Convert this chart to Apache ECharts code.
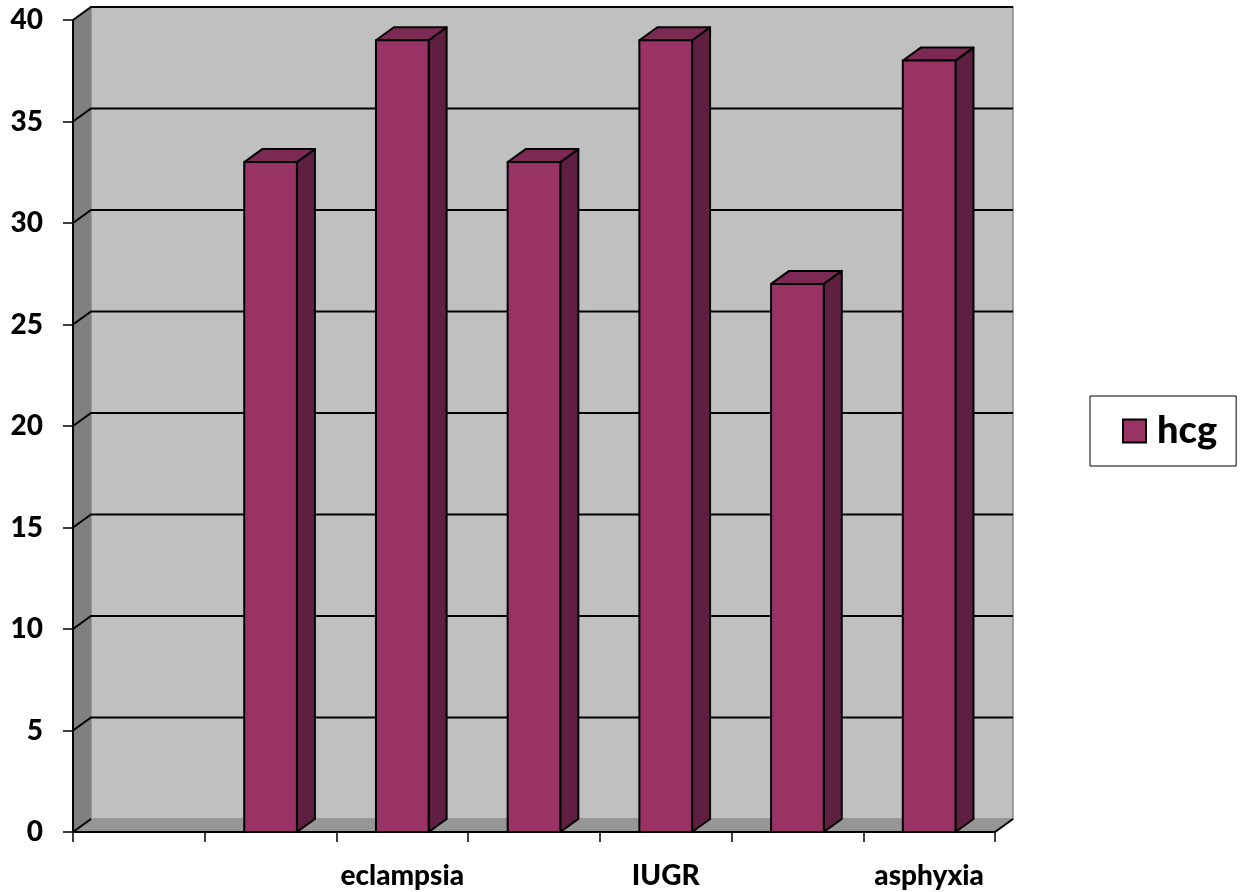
<!DOCTYPE html>
<html>
<head>
<meta charset="utf-8">
<script src="https://cdn.jsdelivr.net/npm/echarts@6/dist/echarts.min.js"></script>
<style>
  html, body { margin: 0; padding: 0; background: #ffffff; }
  #chart { width: 1240px; height: 892px; }
</style>
</head>
<body>
<div id="chart"></div>
<script>
// Category labels (unlabelled slots are left blank)
const categories = ['', '', 'eclampsia', '', 'IUGR', '', 'asphyxia'];
// hcg values per category
const hcgValues = [null, 33, 39, 33, 39, 27, 38];
// Value axis ticks
const yTicks = [0, 5, 10, 15, 20, 25, 30, 35, 40];

// Depth of the pseudo-3D box and bars
const DX = 18, DY = -13;
const FONT = 'Lato, "Open Sans", "DejaVu Sans", sans-serif';

const chart = echarts.init(document.getElementById('chart'), null, { renderer: 'canvas' });

// Walls, floor and gridlines of the 3D plot box
function renderWalls(params, api) {
  const cs = params.coordSys;
  const x0 = cs.x, x1 = cs.x + cs.width;
  const y0 = api.coord([0, 0])[1];
  const yTop = api.coord([0, yTicks[yTicks.length - 1]])[1];
  const children = [];
  // back wall
  children.push({
    type: 'polygon',
    shape: { points: [[x0 + DX, yTop + DY], [x1 + DX, yTop + DY], [x1 + DX, y0 + DY], [x0 + DX, y0 + DY]] },
    style: { fill: '#c0c0c0', stroke: '#8a8a8a', lineWidth: 1.5 }
  });
  // left wall
  children.push({
    type: 'polygon',
    shape: { points: [[x0, yTop], [x0 + DX, yTop + DY], [x0 + DX, y0 + DY], [x0, y0]] },
    style: { fill: '#808080' }
  });
  // floor
  children.push({
    type: 'polygon',
    shape: { points: [[x0, y0], [x0 + DX, y0 + DY], [x1 + DX, y0 + DY], [x1, y0]] },
    style: { fill: '#969696' }
  });
  // floor right edge
  children.push({
    type: 'line',
    shape: { x1: x1, y1: y0, x2: x1 + DX, y2: y0 + DY },
    style: { stroke: '#000', lineWidth: 2 }
  });
  // gridlines: diagonal across the left wall, horizontal across the back wall
  yTicks.forEach(function (v) {
    const yy = api.coord([0, v])[1];
    const pts = v === 0
      ? [[x0, yy], [x0 + DX, yy + DY]]
      : [[x0, yy], [x0 + DX, yy + DY], [x1 + DX, yy + DY]];
    children.push({
      type: 'polyline',
      shape: { points: pts },
      style: { stroke: '#000', lineWidth: 2, fill: null }
    });
  });
  return { type: 'group', children: children };
}

// 3D bar: front face, top face and right side face
function renderBar(params, api) {
  const v = api.value(1);
  if (v === null || v === undefined || isNaN(v)) return null;
  const i = api.value(0);
  const top = api.coord([i, v]);
  const base = api.coord([i, 0]);
  const bw = api.size([1, 0])[0];
  const w = bw * 0.4;
  const xl = top[0] - w / 2, xr = top[0] + w / 2;
  const yt = top[1], yb = base[1];
  const stroke = { stroke: '#000', lineWidth: 2, lineJoin: 'round' };
  return {
    type: 'group',
    children: [
      {
        type: 'polygon',
        shape: { points: [[xr, yt], [xr + DX, yt + DY], [xr + DX, yb + DY], [xr, yb]] },
        style: Object.assign({ fill: '#5f1f40' }, stroke)
      },
      {
        type: 'polygon',
        shape: { points: [[xl, yt], [xl + DX, yt + DY], [xr + DX, yt + DY], [xr, yt]] },
        style: Object.assign({ fill: '#7c2a55' }, stroke)
      },
      {
        type: 'rect',
        shape: { x: xl, y: yt, width: w, height: yb - yt },
        style: Object.assign({ fill: '#993366' }, stroke)
      }
    ]
  };
}

const option = {
  backgroundColor: '#ffffff',
  animation: false,
  grid: { left: 73, right: 245, top: 20, bottom: 60, containLabel: false },
  legend: {
    data: ['hcg'],
    left: 1090,
    top: 396,
    orient: 'vertical',
    icon: 'rect',
    itemWidth: 23,
    itemHeight: 23,
    itemGap: 0,
    padding: [15, 19, 15, 32],
    borderColor: '#000',
    borderWidth: 1,
    itemStyle: { color: '#993366', borderColor: '#000', borderWidth: 2 },
    textStyle: { fontFamily: FONT, fontWeight: 900, fontSize: 38, color: '#000', lineHeight: 40, padding: [0, 0, 0, 6] }
  },
  xAxis: {
    type: 'category',
    data: categories,
    boundaryGap: true,
    z: 5,
    axisLine: { show: true, lineStyle: { color: '#000', width: 2 } },
    axisTick: { show: true, interval: 0, length: 10, inside: false, lineStyle: { color: '#000', width: 1.5 } },
    axisLabel: { interval: 1, margin: 30, fontFamily: FONT, fontWeight: 900, fontSize: 28, color: '#000' },
    splitLine: { show: false }
  },
  yAxis: {
    type: 'value',
    min: 0,
    max: 40,
    interval: 5,
    z: 5,
    axisLine: { show: true, lineStyle: { color: '#000', width: 2 } },
    axisTick: { show: true, length: 10, lineStyle: { color: '#000', width: 1.5 } },
    axisLabel: { margin: 30, fontFamily: FONT, fontWeight: 900, fontSize: 28, color: '#000' },
    splitLine: { show: false }
  },
  series: [
    {
      name: 'walls',
      type: 'custom',
      z: 1,
      silent: true,
      renderItem: renderWalls,
      data: [[0, 0]],
      encode: { x: 0, y: 1 }
    },
    {
      name: 'hcg',
      type: 'custom',
      z: 3,
      itemStyle: { color: '#993366' },
      renderItem: renderBar,
      data: hcgValues.map(function (v, i) { return [i, v]; }),
      encode: { x: 0, y: 1 }
    }
  ]
};

chart.setOption(option);
</script>
</body>
</html>
